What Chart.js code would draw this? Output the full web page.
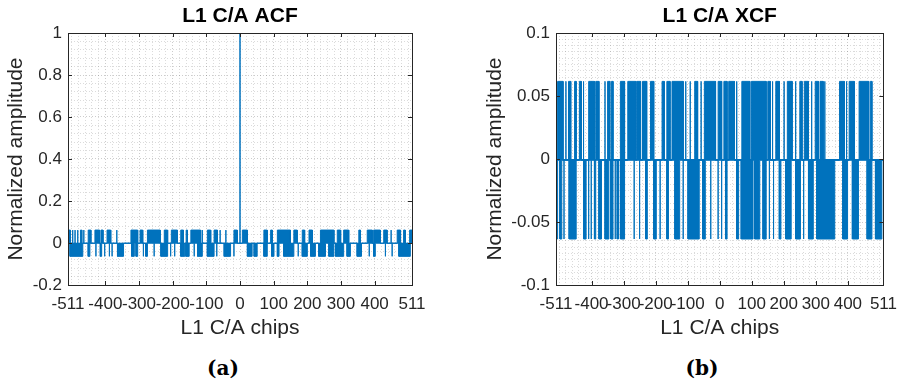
<!DOCTYPE html>
<html>
<head>
<meta charset="utf-8">
<script src="https://cdn.jsdelivr.net/npm/chart.js@4.4.0/dist/chart.umd.min.js"></script>
<style>
  body { margin: 0; background: #fff; width: 906px; height: 381px; position: relative; overflow: hidden; }
  canvas { position: absolute; top: 0; }
  .cap { position: absolute; top: 356px; width: 80px; line-height: 24px; text-align: center;
         font: bold 20px "DejaVu Serif", serif; color: #000; }
</style>
</head>
<body>
<div class="cap" style="left:183px">(a)</div>
<div class="cap" style="left:662px">(b)</div>
<script>
// lag axis and tick labels
const lagMin = -511
const lagMax = 511
const xTickValues = [-511, -400, -300, -200, -100, 0, 100, 200, 300, 400, 511]
const acfYTicks = [-0.2, 0, 0.2, 0.4, 0.6, 0.8, 1]
const xcfYTicks = [-0.1, -0.05, 0, 0.05, 0.1]

// correlation levels
const levelHigh = 0.0616
const levelLow = -0.0635
const levelBase = -0.001

// ACF main peak [lag, value]
const acfPeak = [[0, 1]]

// lag ranges [from, to] where the ACF sits on the high / low level
const acfUpRanges = [
  [-511, -504], [-497, -497], [-490, -490], [-482, -482], [-474, -470], [-464, -464],
  [-451, -443], [-431, -417], [-413, -407], [-395, -384], [-366, -366], [-324, -304],
  [-297, -289], [-275, -237], [-225, -215], [-204, -186], [-176, -168], [-160, -156],
  [-146, -117], [-112, -112], [-97, -87], [-77, -67], [-59, -59], [-42, -42],
  [-18, -8], [7, 22], [71, 81], [91, 96], [111, 150], [160, 170], [185, 192],
  [205, 215], [239, 279], [289, 299], [308, 323], [353, 358], [378, 393],
  [397, 417], [427, 437], [449, 449], [467, 477], [486, 491], [504, 511]
]
const acfDownRanges = [
  [-505, -467], [-451, -446], [-428, -428], [-415, -411], [-402, -402], [-388, -388],
  [-380, -380], [-364, -346], [-322, -314], [-309, -304], [-287, -287], [-280, -275],
  [-255, -255], [-235, -215], [-206, -206], [-194, -194], [-176, -164], [-161, -151],
  [-136, -136], [-126, -112], [-97, -77], [-69, -69], [-47, -28], [-18, -18],
  [22, 36], [42, 51], [71, 81], [94, 101], [111, 116], [130, 140], [142, 160],
  [173, 173], [185, 200], [210, 224], [234, 254], [264, 279], [284, 308],
  [318, 328], [348, 361], [384, 384], [397, 402], [432, 432], [452, 452], [472, 506]
]

// lag ranges where the XCF sits on the high / low level
const xcfUpRanges = [
  [-506, -489], [-480, -480], [-472, -465], [-453, -448], [-438, -432], [-425, -425],
  [-409, -391], [-387, -377], [-358, -358], [-350, -343], [-338, -333], [-310, -297],
  [-287, -262], [-259, -247], [-241, -228], [-216, -206], [-180, -173], [-165, -155],
  [-149, -114], [-106, -106], [-92, -92], [-78, -69], [-58, -58], [-48, -13],
  [-5, 6], [13, 23], [28, 46], [53, 53], [69, 94], [99, 145], [150, 158], [165, 165],
  [175, 186], [201, 201], [211, 226], [237, 237], [250, 257], [264, 277], [287, 287],
  [298, 308], [313, 323], [328, 328], [374, 389], [396, 396], [404, 420], [435, 465],
  [470, 475]
]
const xcfDownRanges = [
  [-511, -506], [-499, -493], [-486, -486], [-470, -448], [-425, -417], [-409, -409],
  [-401, -401], [-391, -387], [-377, -369], [-358, -346], [-340, -333], [-326, -326],
  [-320, -316], [-310, -297], [-267, -267], [-250, -250], [-231, -226], [-206, -198],
  [-186, -186], [-165, -160], [-140, -125], [-114, -114], [-99, -64], [-53, -45],
  [-28, -28], [-5, -5], [6, 6], [18, 23], [53, 59], [67, 104], [109, 125], [135, 145],
  [155, 155], [168, 168], [186, 191], [206, 223], [237, 252], [262, 262], [277, 292],
  [303, 359], [384, 399], [414, 433], [460, 475], [486, 506]
]

const blue = '#0072BD'
const axisGray = '#262626'

function stepPoints(ranges, level) {
  const pts = [{x: lagMin, y: levelBase}]
  ranges.forEach(([a, b]) => {
    pts.push({x: a, y: levelBase}, {x: a, y: level}, {x: b, y: level}, {x: b, y: levelBase})
  })
  pts.push({x: lagMax, y: levelBase})
  return pts
}

function peakPoints(peaks) {
  const pts = []
  peaks.forEach(([lag, v]) => pts.push({x: lag, y: levelBase}, {x: lag, y: v}, {x: lag, y: levelBase}))
  return pts
}

function buildTicks(min, max, step, majors) {
  const vals = [...majors]
  for (let k = Math.ceil(min / step - 1e-9); k * step <= max + 1e-9; k++) {
    const v = +(k * step).toFixed(6)
    if (!vals.some(m => Math.abs(m - v) < step * 0.3)) vals.push(v)
  }
  return vals.sort((a, b) => a - b).map(v => ({value: v}))
}

function isMajor(v, majors) {
  return majors.find(m => Math.abs(m - v) < 1e-7)
}

// title, axes box and inward tick marks, MATLAB style
const framePlugin = {
  id: 'frame',
  afterDraw(chart, args, opts) {
    const {ctx, chartArea: ca, scales} = chart
    ctx.save()
    ctx.fillStyle = '#000'
    ctx.font = 'bold 21px "Liberation Sans", Arial, sans-serif'
    ctx.textAlign = 'center'
    ctx.textBaseline = 'middle'
    ctx.fillText(opts.title, (ca.left + ca.right) / 2, 16)
    ctx.strokeStyle = axisGray
    ctx.lineWidth = 1
    ctx.beginPath()
    xTickValues.forEach(v => {
      const px = Math.round(scales.x.getPixelForValue(v)) + 0.5
      ctx.moveTo(px, ca.bottom); ctx.lineTo(px, ca.bottom - 4)
      ctx.moveTo(px, ca.top); ctx.lineTo(px, ca.top + 4)
    })
    opts.yTicks.forEach(v => {
      const py = Math.round(scales.y.getPixelForValue(v)) + 0.5
      ctx.moveTo(ca.left, py); ctx.lineTo(ca.left + 4, py)
      ctx.moveTo(ca.right, py); ctx.lineTo(ca.right - 4, py)
    })
    ctx.stroke()
    ctx.strokeRect(Math.round(ca.left) + 0.5, Math.round(ca.top) + 0.5,
      Math.round(ca.right - ca.left), Math.round(ca.bottom - ca.top))
    ctx.restore()
  }
}

function make_chart(cfg) {
  const canvas = document.createElement('canvas')
  canvas.width = 453
  canvas.height = 345
  canvas.style.left = cfg.left + 'px'
  document.body.appendChild(canvas)
  const tickFont = {family: '"Liberation Sans", Arial, sans-serif', size: 17}
  const titleFont = {family: '"Liberation Sans", Arial, sans-serif', size: 21}
  const gridColor = (ctx, majors) =>
    ctx.tick && isMajor(ctx.tick.value, majors) !== undefined ? 'rgba(0,0,0,0.2)' : 'rgba(0,0,0,0.14)'
  const datasets = cfg.datasets.map(d => ({
    data: d,
    borderColor: blue,
    backgroundColor: blue,
    borderWidth: 1,
    pointRadius: 0,
    tension: 0,
    fill: 'origin'
  }))
  return new Chart(canvas.getContext('2d'), {
    type: 'line',
    data: {datasets: datasets},
    options: {
      responsive: false,
      animation: false,
      events: [],
      layout: {padding: cfg.padding},
      plugins: {
        legend: {display: false},
        tooltip: {enabled: false},
        frame: {title: cfg.title, yTicks: cfg.yTicks}
      },
      scales: {
        x: {
          type: 'linear',
          min: lagMin,
          max: lagMax,
          afterBuildTicks: s => { s.ticks = buildTicks(lagMin, lagMax, 20, xTickValues) },
          afterFit: s => { s.height = 60 },
          grid: {color: c => gridColor(c, xTickValues), drawTicks: false},
          border: {display: false, dash: [1, 2]},
          ticks: {
            autoSkip: false, maxRotation: 0, padding: 9, font: tickFont, color: axisGray,
            callback: v => { const m = isMajor(v, xTickValues); return m === undefined ? '' : String(m) }
          },
          title: {display: true, text: 'L1 C/A chips', font: titleFont, color: axisGray,
                  padding: {top: 0, bottom: 4}}
        },
        y: {
          type: 'linear',
          min: cfg.yTicks[0],
          max: cfg.yTicks[cfg.yTicks.length - 1],
          afterBuildTicks: s => {
            s.ticks = buildTicks(cfg.yTicks[0], cfg.yTicks[cfg.yTicks.length - 1], cfg.yMinor, cfg.yTicks)
          },
          afterFit: s => { s.width = cfg.yWidth },
          grid: {color: c => gridColor(c, cfg.yTicks), drawTicks: false},
          border: {display: false, dash: [1, 2]},
          ticks: {
            autoSkip: false, padding: 6, font: tickFont, color: axisGray,
            callback: v => { const m = isMajor(v, cfg.yTicks); return m === undefined ? '' : String(m) }
          },
          title: {display: true, text: 'Normalized amplitude', font: titleFont, color: axisGray,
                  padding: {top: cfg.yTitlePad, bottom: 0}}
        }
      }
    },
    plugins: [framePlugin]
  })
}

make_chart({
  left: 0,
  title: 'L1 C/A ACF',
  yTicks: acfYTicks,
  yMinor: 0.04,
  yWidth: 68,
  yTitlePad: 4,
  padding: {top: 33, right: 41, left: 0, bottom: 0},
  datasets: [
    peakPoints(acfPeak),
    stepPoints(acfUpRanges, levelHigh),
    stepPoints(acfDownRanges, levelLow)
  ]
})

make_chart({
  left: 453,
  title: 'L1 C/A XCF',
  yTicks: xcfYTicks,
  yMinor: 0.005,
  yWidth: 76,
  yTitlePad: 3,
  padding: {top: 33, right: 15, left: 27, bottom: 0},
  datasets: [
    stepPoints(xcfUpRanges, levelHigh),
    stepPoints(xcfDownRanges, levelLow)
  ]
})
</script>
</body>
</html>
